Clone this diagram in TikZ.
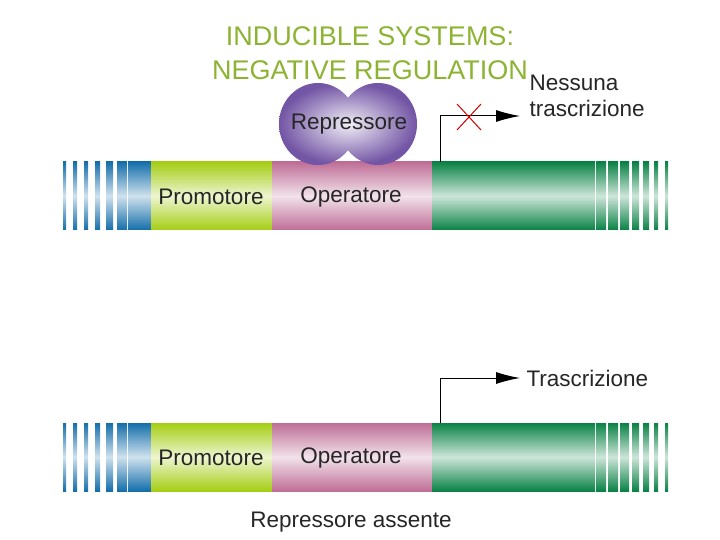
\documentclass[tikz,border=0pt]{standalone}
\usepackage{fontspec}
\setmainfont{Liberation Sans}
\usetikzlibrary{arrows.meta}
\definecolor{blu}{RGB}{20,110,170}
\definecolor{lim}{RGB}{165,205,20}
\definecolor{pnk}{RGB}{190,110,150}
\definecolor{grn}{RGB}{10,130,70}
\definecolor{ttl}{RGB}{140,180,50}
\definecolor{vio}{RGB}{115,85,165}
\begin{document}
\begin{tikzpicture}[x=1pt,y=-1pt,
  seg/.style={top color=#1,bottom color=#1,middle color=white!80!#1,draw=none},
  lbl/.style={font=\fontsize{22.5}{25}\selectfont,text=black!85},
  arr/.style={line width=1pt,-{Latex[length=24pt,width=12pt]}}]
\useasboundingbox (0,0) rectangle (720,540);
\node[text=ttl,align=center,font=\fontsize{27}{34}\selectfont] (title) at (370,53) {INDUCIBLE SYSTEMS:\\NEGATIVE REGULATION};
\foreach \y/\n in {162/a,423/b}{
  \foreach \a/\b in {63/66,73/77,84/88,95/100,106/113,117/127,128/151}
    \shade[seg=blu] (\a,\y) rectangle (\b,\y+68);
  \shade[seg=lim] (151,\y) rectangle (272,\y+68);
  \shade[seg=pnk] (272,\y) rectangle (432,\y+68);
  \shade[seg=grn] (432,\y) rectangle (595,\y+68);
  \foreach \a/\b in {596/606,608/618,620/629,632/639,643/649,654/658,665/668}
    \shade[seg=grn] (\a,\y) rectangle (\b,\y+68);
  \node[lbl] (p\n) at (211,\y+35) {Promotore};
  \node[lbl] (o\n) at (351,\y+35) {Operatore};
}
\shade[inner color=vio!10!white,outer color=vio] (318,124) ellipse (39 and 41) (378,124) ellipse (39 and 41);
\node[lbl] (rep) at (349,124) {Repressore};
\coordinate (s1) at (440,162);
\coordinate (c1) at (440,116);
\coordinate (e1) at (520,116);
\draw[arr] (s1) -- (c1) -- (e1);
\draw[red!85!black,line width=1pt] (457,104) -- (481,130) (457,130) -- (481,104);
\node[lbl,align=left,anchor=west,font=\fontsize{22.5}{26}\selectfont] (nt) at (526,96) {Nessuna\\trascrizione};
\coordinate (s2) at (440,423);
\coordinate (c2) at (440,378);
\coordinate (e2) at (520,378);
\draw[arr] (s2) -- (c2) -- (e2);
\node[lbl,anchor=west] (tr) at (523,378) {Trascrizione};
\node[lbl] (ra) at (351,522) {Repressore assente};
\end{tikzpicture}
\end{document}
